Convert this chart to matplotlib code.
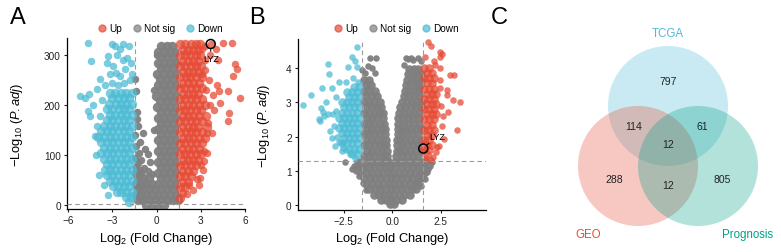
import matplotlib.pyplot as plt
from matplotlib.lines import Line2D
from matplotlib.patches import Circle

plt.rcParams['font.family'] = ['Liberation Sans', 'DejaVu Sans']
plt.rcParams['mathtext.fontset'] = 'custom'
plt.rcParams['mathtext.rm'] = 'Liberation Sans'
plt.rcParams['mathtext.it'] = 'Liberation Sans:italic'

RED = '#E64B35'
GREY = '#7F7F7F'
BLUE = '#4DBBD5'
TEAL = '#00A087'

# ---------------- panel A (volcano 1) ----------------
# dense part of the cloud read row by row: (-log10 padj, [log2FC, ...])
up_a_rows = [
    (322, [1.58, 1.93, 2.3, 2.64, 2.92]), (311, [1.76, 2.1, 2.46, 2.8]),
    (300, [1.6, 1.95, 2.28, 2.65, 2.97]), (289, [1.75, 2.12, 2.45, 2.82]),
    (278, [1.58, 1.94, 2.3, 2.66, 3.02]), (267, [1.77, 2.1, 2.47, 2.83]),
    (256, [1.6, 1.96, 2.29, 2.64, 3.05]), (245, [1.75, 2.11, 2.46, 2.86]),
    (234, [1.59, 1.93, 2.31, 2.67, 3.1]), (223, [1.76, 2.1, 2.45, 2.84]),
    (212, [1.6, 1.95, 2.3, 2.65, 3.06]), (201, [1.75, 2.12, 2.47, 2.86, 3.28]),
    (190, [1.58, 1.94, 2.29, 2.66, 3.02]), (179, [1.76, 2.1, 2.46, 2.85, 3.35]),
    (168, [1.6, 1.95, 2.3, 2.65, 3.06]), (157, [1.75, 2.11, 2.45, 2.84, 3.4]),
    (146, [1.59, 1.96, 2.31, 2.67, 3.05]), (135, [1.77, 2.1, 2.46, 2.85, 3.3]),
    (124, [1.6, 1.94, 2.3, 2.66, 3.1]), (113, [1.75, 2.12, 2.47, 2.86]),
    (102, [1.58, 1.95, 2.29, 2.65, 3.0]), (91, [1.76, 2.1, 2.45, 2.8]),
    (80, [1.6, 1.95, 2.3, 2.7]), (69, [1.75, 2.1, 2.5]), (58, [1.6, 1.95, 2.3]),
    (47, [1.75, 2.1]), (36, [1.6, 1.95]), (25, [1.72]), (14, [1.6]),
]
up_a_extra = [
    (4.48, 324), (5.14, 324), (3.3, 318), (4.05, 312), (3.1, 312), (4.2, 290),
    (3.6, 300), (3.25, 290), (5.33, 282), (5.49, 272), (5.2, 258), (3.3, 270),
    (3.05, 262), (3.55, 250), (4.08, 240), (4.23, 229), (4.82, 229), (3.35, 230),
    (3.8, 220), (5.66, 214), (4.3, 205), (3.6, 200), (3.9, 190), (4.93, 185),
    (4.87, 169), (3.51, 165), (3.74, 145), (3.45, 145), (3.4, 105), (3.24, 109),
    (3.2, 88), (3.03, 81), (3.15, 70), (2.96, 55), (2.72, 52), (2.85, 40),
    (2.5, 30), (2.2, 40), (2.05, 22),
]
down_a_rows = [
    (225, [-1.7, -2.05, -2.42, -2.8, -3.18]), (214, [-1.86, -2.22, -2.6, -3.0]),
    (203, [-1.7, -2.06, -2.4, -2.78, -3.25]), (192, [-1.85, -2.2, -2.58, -3.0, -3.4]),
    (181, [-1.7, -2.05, -2.42, -2.8, -3.2]), (170, [-1.86, -2.22, -2.6, -3.02, -3.4]),
    (159, [-1.7, -2.05, -2.4, -2.8, -3.2, -3.6]), (148, [-1.85, -2.2, -2.6, -3.0, -3.4, -3.8]),
    (137, [-1.7, -2.06, -2.42, -2.8, -3.2, -3.6, -4.0]),
    (126, [-1.86, -2.2, -2.6, -3.0, -3.4, -3.8]), (115, [-1.7, -2.05, -2.4, -2.8, -3.2, -3.6]),
    (104, [-1.85, -2.22, -2.6, -3.0, -3.4, -3.75]), (93, [-1.7, -2.05, -2.42, -2.8, -3.2, -3.55]),
    (82, [-1.86, -2.2, -2.6, -3.0, -3.4]), (71, [-1.7, -2.05, -2.4, -2.8, -3.2, -3.5]),
    (60, [-1.85, -2.2, -2.6, -3.0, -3.35]), (49, [-1.7, -2.05, -2.4, -2.8, -3.15]),
    (38, [-1.86, -2.2, -2.6, -2.95]), (27, [-1.7, -2.05, -2.4, -2.7]),
    (16, [-1.75, -2.1]), (7, [-1.9]),
]
down_a_extra = [
    (-4.65, 324), (-3.06, 322), (-2.83, 319), (-2.5, 312), (-2.26, 322), (-1.9, 318),
    (-4.49, 289), (-3.29, 298), (-2.7, 300), (-2.0, 295), (-2.3, 290), (-3.4, 285),
    (-1.75, 285), (-2.95, 279), (-2.14, 272), (-2.75, 265), (-3.15, 262), (-1.7, 262),
    (-2.49, 259), (-3.85, 252), (-1.8, 250), (-2.2, 245), (-3.0, 245), (-2.6, 240),
    (-3.5, 240), (-4.07, 232), (-4.58, 222), (-5.21, 219), (-4.88, 215), (-3.7, 210),
    (-4.3, 200), (-4.65, 189), (-4.52, 179), (-3.85, 179), (-4.08, 159), (-4.2, 139),
    (-4.1, 100), (-3.9, 60), (-3.6, 40), (-3.3, 20),
]
ns_a_rows = [
    (318, [0.3, 0.7, 1.05]), (307, [0.12, 0.5, 0.9, 1.27]), (296, [0.3, 0.7, 1.1]),
    (285, [0.1, 0.5, 0.9, 1.3]), (274, [0.28, 0.7, 1.1]), (263, [0.05, 0.5, 0.9, 1.3]),
    (252, [0.25, 0.7, 1.1]), (241, [0.08, 0.5, 0.9, 1.3]), (230, [0.3, 0.7, 1.1]),
    (219, [-0.05, 0.5, 0.9, 1.3]), (208, [0.25, 0.7, 1.1]), (197, [0.05, 0.5, 0.9, 1.3]),
    (186, [0.3, 0.7, 1.1]), (175, [0.1, 0.5, 0.9, 1.3]), (164, [0.3, 0.7, 1.1]),
    (153, [0.1, 0.5, 0.9, 1.3]), (142, [0.3, 0.7, 1.1]), (131, [0.1, 0.5, 0.9, 1.3]),
    (120, [0.3, 0.7, 1.1]), (109, [0.1, 0.5, 0.9, 1.3]), (98, [0.3, 0.7, 1.1]),
    (87, [0.1, 0.5, 0.9, 1.3]), (76, [0.3, 0.7, 1.1]),
    (65, [-1.4, -1.1, 0.1, 0.5, 0.9, 1.3]), (54, [-1.25, -0.9, -0.5, 0.3, 0.7, 1.1]),
    (43, [-1.4, -1.05, -0.7, -0.3, 0.1, 0.5, 0.9, 1.3]),
    (32, [-1.25, -0.9, -0.5, -0.1, 0.3, 0.7, 1.1]),
    (21, [-1.4, -1.05, -0.7, -0.3, 0.1, 0.5, 0.9, 1.3]),
    (10, [-1.25, -0.9, -0.5, -0.1, 0.3, 0.7, 1.1, 1.45]), (1, [-0.7, -0.3, 0.1, 0.5]),
]
ns_a_extra = [
    (-1.47, 252), (-1.4, 228), (-1.36, 186), (-1.33, 172), (-1.25, 159), (-0.91, 145),
    (-1.45, 140), (-1.13, 126), (-0.8, 112), (-0.57, 102), (-0.45, 86), (-1.4, 118),
    (-1.2, 105), (-1.45, 95), (-1.3, 84), (-1.05, 90), (-1.4, 76), (-0.85, 74),
    (-0.6, 68), (-1.15, 70), (-0.3, 62), (-0.15, 150), (-0.2, 230), (0.0, 300),
]
lyz_a = (3.67, 322)
fc_cut_a = 1.5

# ---------------- panel B (volcano 2) ----------------
up_b_rows = [
    (4.0, [1.66, 1.91]), (3.85, [1.78, 2.03]), (3.7, [1.66, 1.91, 2.16]),
    (3.55, [1.78, 2.03]), (3.4, [1.66, 1.91, 2.16]), (3.25, [1.78, 2.03, 2.28]),
    (3.1, [1.66, 1.91, 2.16]), (2.95, [1.78, 2.03, 2.28]), (2.8, [1.66, 1.91, 2.16]),
    (2.65, [1.78, 2.03, 2.28]), (2.5, [1.66, 1.91, 2.16]), (2.35, [1.78, 2.03]),
    (2.2, [1.66, 1.91, 2.16]), (2.05, [1.78, 2.03]), (1.9, [1.66, 1.91]),
    (1.75, [1.78, 2.03]), (1.6, [1.66, 1.91]), (1.45, [1.78]),
]
up_b_extra = [
    (1.86, 4.76), (1.98, 4.64), (2.46, 4.46), (2.55, 4.4), (2.44, 4.31), (2.15, 4.2),
    (1.7, 4.33), (2.46, 4.0), (2.2, 4.1), (2.99, 3.8), (3.17, 3.8), (2.45, 3.65),
    (2.46, 3.41), (2.8, 3.35), (2.8, 3.2), (3.14, 3.06), (3.52, 3.0), (2.5, 2.9),
    (2.87, 2.71), (2.6, 2.6), (2.55, 2.3), (3.32, 2.2), (2.67, 1.93), (2.4, 1.73),
    (2.3, 1.7), (2.25, 1.55), (2.1, 1.4), (2.0, 1.32), (1.75, 1.36),
]
down_b_rows = [
    (3.45, [-1.72, -1.97]), (3.3, [-1.84, -2.09, -2.34]), (3.15, [-1.72, -1.97, -2.22]),
    (3.0, [-1.84, -2.09, -2.34, -2.62]), (2.85, [-1.72, -1.97, -2.22, -2.48]),
    (2.7, [-1.84, -2.09, -2.34, -2.6]), (2.55, [-1.72, -1.97, -2.22, -2.47, -2.75]),
    (2.4, [-1.84, -2.09, -2.34, -2.6]), (2.25, [-1.72, -1.97, -2.22, -2.47, -2.74]),
    (2.1, [-1.84, -2.09, -2.34, -2.6]), (1.95, [-1.72, -1.97, -2.22, -2.5]),
    (1.8, [-1.84, -2.09, -2.34, -2.62]), (1.65, [-1.72, -1.97, -2.22]),
    (1.5, [-1.84, -2.09]),
]
down_b_extra = [
    (-1.84, 4.63), (-2.1, 4.31), (-1.95, 4.2), (-2.27, 4.02), (-1.84, 4.02),
    (-3.31, 4.12), (-3.26, 3.83), (-2.05, 3.7), (-1.75, 3.6), (-2.4, 3.6), (-2.75, 3.58),
    (-3.65, 3.41), (-3.13, 3.41), (-4.22, 3.21), (-2.9, 3.15), (-3.43, 3.0),
    (-4.63, 2.92), (-3.69, 2.82), (-2.9, 2.75), (-3.57, 2.71), (-3.31, 2.67),
    (-3.06, 2.66), (-3.55, 2.6), (-3.79, 2.51), (-3.74, 2.46), (-3.0, 2.3),
    (-3.22, 2.17), (-2.85, 2.0), (-3.1, 1.95), (-2.75, 1.85), (-2.55, 1.8),
    (-2.96, 1.73), (-2.53, 1.68), (-2.6, 1.59), (-2.4, 1.6), (-2.18, 1.49), (-1.95, 1.38),
]
ns_b_rows = [
    (3.98, [0.87, 1.1, 1.34]), (3.82, [0.82, 1.05, 1.28, 1.48]),
    (3.66, [-1.45, -1.2, 0.77, 1.0, 1.24, 1.47]), (3.5, [-1.35, -1.1, 0.72, 0.95, 1.2, 1.45]),
    (3.34, [-1.45, -1.18, -0.9, 0.66, 0.9, 1.15, 1.4]),
    (3.18, [-1.35, -1.06, -0.78, 0.58, 0.84, 1.1, 1.37]),
    (3.02, [-1.45, -1.18, -0.92, -0.66, 0.5, 0.76, 1.03, 1.3, 1.48]),
    (2.86, [-1.33, -1.06, -0.8, -0.57, 0.42, 0.68, 0.95, 1.22, 1.47]),
    (2.7, [-1.45, -1.18, -0.92, -0.66, -0.5, 0.34, 0.6, 0.87, 1.14, 1.4]),
    (2.54, [-1.33, -1.06, -0.8, -0.5, 0.32, 0.56, 0.82, 1.09, 1.36]),
    (2.38, [-1.45, -1.18, -0.92, -0.66, -0.42, 0.3, 0.55, 0.82, 1.1, 1.38]),
    (2.22, [-1.33, -1.06, -0.8, -0.55, -0.38, 0.29, 0.48, 0.72, 0.98, 1.25, 1.47]),
    (2.06, [-1.45, -1.18, -0.92, -0.66, -0.4, 0.27, 0.5, 0.78, 1.05, 1.32]),
    (1.9, [-1.33, -1.06, -0.8, -0.55, -0.33, 0.26, 0.42, 0.66, 0.92, 1.19, 1.46]),
    (1.74, [-1.45, -1.18, -0.92, -0.66, -0.44, -0.31, 0.24, 0.5, 0.78, 1.05, 1.32]),
    (1.58, [-1.33, -1.06, -0.8, -0.55, -0.29, 0.23, 0.4, 0.64, 0.92, 1.19, 1.46]),
    (1.42, [-1.45, -1.18, -0.92, -0.66, -0.42, -0.25, 0.21, 0.5, 0.78, 1.05, 1.32]),
    (1.26, [-1.7, -1.33, -1.06, -0.8, -0.55, -0.3, -0.15, 0.15, 0.38, 0.64, 0.92, 1.19, 1.46, 1.7]),
    (1.1, [-1.6, -1.45, -1.18, -0.92, -0.66, -0.4, -0.14, 0.12, 0.5, 0.78, 1.05, 1.32, 1.6]),
    (0.94, [-1.6, -1.31, -1.03, -0.75, -0.47, -0.19, 0.05, 0.33, 0.61, 0.89, 1.17, 1.45, 1.65]),
    (0.78, [-1.45, -1.17, -0.89, -0.61, -0.33, -0.05, 0.19, 0.47, 0.75, 1.03, 1.31, 1.5]),
    (0.62, [-1.35, -1.03, -0.75, -0.47, -0.19, 0.05, 0.33, 0.61, 0.89, 1.17, 1.35]),
    (0.46, [-1.2, -0.89, -0.61, -0.33, -0.05, 0.19, 0.47, 0.75, 1.03, 1.2]),
    (0.3, [-0.95, -0.7, -0.45, -0.19, 0.05, 0.33, 0.6, 0.9]),
    (0.15, [-0.6, -0.33, -0.05, 0.2, 0.5]), (0.04, [-0.12, 0.1]),
]
ns_b_extra = [
    (-2.44, 1.25), (-2.0, 1.15), (-1.84, 1.25), (-2.1, 1.05), (-1.9, 1.0), (-1.7, 0.85),
    (-1.5, 0.65), (-1.35, 0.45), (-1.8, 1.1), (1.78, 0.95), (1.95, 1.15), (2.05, 1.25),
    (1.85, 1.05), (1.7, 0.75), (1.5, 0.55), (1.75, 1.25), (-1.15, 4.3), (-0.84, 4.3),
    (-1.07, 3.99), (-0.9, 3.85), (-1.4, 3.85), (-1.25, 4.05), (-1.55, 3.95), (0.69, 4.3),
    (0.8, 4.28), (0.95, 4.3), (1.09, 4.25), (1.35, 4.3), (1.5, 4.2), (0.6, 4.1),
]
lyz_b = (1.6, 1.65)
fc_cut_b = 1.585
p_cut_line = 1.3

# ---------------- panel C (venn counts) ----------------
set_names = ['TCGA', 'GEO', 'Prognosis']
venn_counts = {'TCGA': 797, 'TCGA&GEO': 114, 'TCGA&Prognosis': 61, 'all': 12,
               'GEO': 288, 'GEO&Prognosis': 12, 'Prognosis': 805}


def rows_xy(rows):
    return [x for y, row in rows for x in row], [y for y, row in rows for _ in row]


def pts_xy(pts):
    return [p[0] for p in pts], [p[1] for p in pts]


fig = plt.figure(figsize=(7.81, 2.53), dpi=100)
W, H = 781, 253


def volcano(box, groups, lyz, fc_cut, s_core, s_pts, lyz_off, lyz_ha):
    x0, x1, ytop, ybot = box
    ax = fig.add_axes([x0 / W, 1 - ybot / H, (x1 - x0) / W, (ybot - ytop) / H])
    for (rows, pts), colour, a, z in zip(groups, (GREY, BLUE, RED), (0.95, 0.75, 0.75), (2, 3, 3)):
        ax.scatter(*rows_xy(rows), s=s_core, c=colour, alpha=a, linewidths=0, zorder=z)
        ax.scatter(*pts_xy(pts), s=s_pts, c=colour, alpha=a, linewidths=0, zorder=z)
    ax.scatter(*lyz, s=s_pts, c=RED, alpha=0.75, linewidths=0, zorder=3)
    ax.scatter(*lyz, s=42, facecolors='none', edgecolors='black', linewidths=1.1, zorder=5)
    ax.annotate('LYZ', xy=lyz, xytext=lyz_off, textcoords='offset points',
                ha=lyz_ha, va='center', fontsize=6.5, zorder=6,
                arrowprops=dict(arrowstyle='-', lw=0.8, color='black', shrinkA=0, shrinkB=4))
    for v in (-fc_cut, fc_cut):
        ax.axvline(v, color='#9A9A9A', lw=0.8, ls=(0, (4, 3)), zorder=4)
    ax.axhline(p_cut_line, color='#9A9A9A', lw=0.8, ls=(0, (4, 3)), zorder=4)
    for sp in ('top', 'right'):
        ax.spines[sp].set_visible(False)
    for sp in ('left', 'bottom'):
        ax.spines[sp].set_linewidth(0.9)
    ax.tick_params(length=2.5, width=0.8, labelsize=7.2, pad=2, colors='#222222')
    ax.set_xlabel('Log$_{2}$ (Fold Change)', fontsize=9.3)
    ax.set_ylabel('−Log$_{10}$ ($\\mathit{P.adj}$)', fontsize=9.3)
    handles = [Line2D([], [], marker='o', ls='', color=c, alpha=0.7, markersize=5)
               for c in (RED, GREY, BLUE)]
    ax.legend(handles, ['Up', 'Not sig', 'Down'], loc='center', ncol=3, frameon=False,
              fontsize=7.2, handletextpad=0.1, columnspacing=0.9, handlelength=1.2,
              borderaxespad=0, borderpad=0)
    return ax


groups_a = ((ns_a_rows, ns_a_extra), (down_a_rows, down_a_extra), (up_a_rows, up_a_extra))
ax_a = volcano((67, 245, 39, 210), groups_a, lyz_a, fc_cut_a, 46, 29, (0, -10.5), 'center')
ax_a.set_xlim(-6.09, 6.0)
ax_a.set_ylim(-8, 334)
ax_a.set_xticks([-6, -3, 0, 3, 6])
ax_a.set_yticks([0, 100, 200, 300])
ax_a.get_legend().set_bbox_to_anchor((0.52, 1.058), transform=ax_a.transAxes)
ax_a.yaxis.set_label_coords(-0.236, 0.5)
ax_a.xaxis.set_label_coords(0.5, -0.12)

groups_b = ((ns_b_rows, ns_b_extra), (down_b_rows, down_b_extra), (up_b_rows, up_b_extra))
ax_b = volcano((298, 486, 40, 211), groups_b, lyz_b, fc_cut_b, 38, 22, (4, 9), 'left')
ax_b.set_xlim(-4.87, 4.84)
ax_b.set_ylim(-0.146, 4.85)
ax_b.set_xticks([-2.5, 0, 2.5])
ax_b.set_xticklabels(['−2.5', '0.0', '2.5'])
ax_b.set_yticks([0, 1, 2, 3, 4])
ax_b.get_legend().set_bbox_to_anchor((0.516, 1.064), transform=ax_b.transAxes)
ax_b.yaxis.set_label_coords(-0.138, 0.5)
ax_b.xaxis.set_label_coords(0.5, -0.115)

# venn diagram, drawn in pixel units of its own axes
ax_c = fig.add_axes([520 / W, 0, (W - 520) / W, 1])
ax_c.set_xlim(520, W)
ax_c.set_ylim(H, 0)
ax_c.axis('off')
centres = {'TCGA': (668, 107), 'GEO': (638, 167), 'Prognosis': (698, 167)}
colours = {'TCGA': BLUE, 'GEO': RED, 'Prognosis': TEAL}
for name in set_names:
    ax_c.add_patch(Circle(centres[name], 60, facecolor=colours[name], alpha=0.3, lw=0))
count_pos = {'TCGA': (668, 82), 'TCGA&GEO': (634, 127), 'TCGA&Prognosis': (702, 127),
             'all': (668, 145), 'GEO': (614, 180), 'GEO&Prognosis': (668, 186),
             'Prognosis': (722, 180)}
for key, n in venn_counts.items():
    ax_c.text(*count_pos[key], str(n), ha='center', va='center', fontsize=7.5, color='#222222')
name_pos = {'TCGA': (668, 34), 'GEO': (588, 235), 'Prognosis': (748, 235)}
for name in set_names:
    ax_c.text(*name_pos[name], name, ha='center', va='center', fontsize=8.3, color=colours[name])

for letter, px in (('A', 18), ('B', 257), ('C', 499)):
    fig.text(px / W, 1 - 18 / H, letter, fontsize=17, ha='center', va='center')

fig.savefig('out.png', dpi=100)
